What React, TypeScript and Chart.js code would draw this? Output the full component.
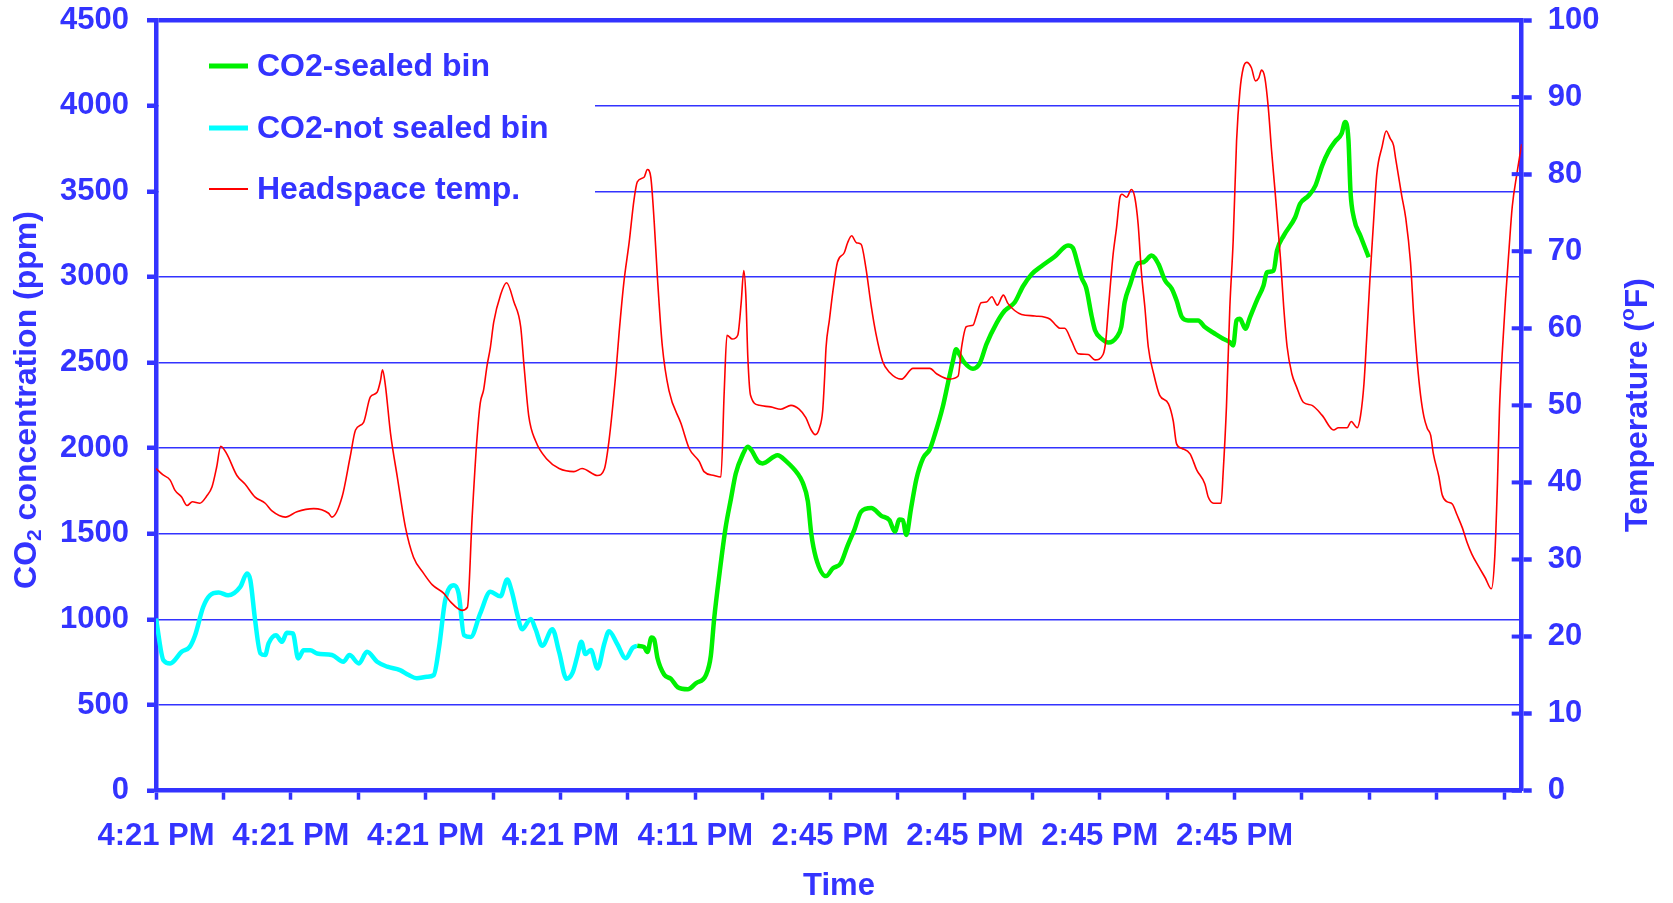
import React, { useEffect, useRef } from 'react';
import { Chart, registerables } from 'chart.js';

Chart.register(...registerables);

// ---------- data ----------
const xLabels = ['4:21 PM', '4:21 PM', '4:21 PM', '4:21 PM', '4:11 PM', '2:45 PM', '2:45 PM', '2:45 PM', '2:45 PM'];
const legendNames = ['CO2-sealed bin', 'CO2-not sealed bin', 'Headspace temp.'];

const tempTime = [
  0.00, 0.10, 0.21, 0.28, 0.38, 0.46, 0.54, 0.65, 0.75, 0.83, 0.90, 0.96, 1.05, 1.20, 1.32, 1.47, 1.62, 1.72, 1.92, 2.09,
  2.34, 2.56, 2.61, 2.76, 2.88, 2.96, 3.08, 3.18, 3.28, 3.33, 3.36, 3.40, 3.48, 3.58, 3.70, 3.82, 3.97, 4.10, 4.27, 4.37,
  4.54, 4.62, 4.69, 4.76, 4.81, 4.86, 4.91, 4.96, 5.01, 5.11, 5.20, 5.31, 5.41, 5.46, 5.53, 5.63, 5.80, 5.98, 6.20, 6.32,
  6.55, 6.65, 6.72, 6.82, 6.87, 6.94, 7.02, 7.09, 7.14, 7.24, 7.29, 7.34, 7.39, 7.44, 7.51, 7.61, 7.79, 7.91, 8.06, 8.13,
  8.28, 8.38, 8.43, 8.47, 8.55, 8.63, 8.68, 8.72, 8.75, 8.78, 8.82, 8.95, 9.12, 9.27, 9.42, 9.54, 9.64, 9.72, 9.78, 9.84,
  9.89, 9.92, 9.94, 9.99, 10.04, 10.11, 10.21, 10.26, 10.32, 10.39, 10.46, 10.53, 10.61, 10.68, 10.78, 10.88, 11.06, 11.23, 11.48, 11.58,
  11.77, 11.90, 11.95, 12.02, 12.12, 12.17, 12.24, 12.32, 12.40, 12.48, 12.57, 12.64, 12.84, 13.04, 13.26, 13.36, 13.41, 13.48, 13.58, 13.68,
  13.83, 13.93, 14.05, 14.09, 14.13, 14.20, 14.25, 14.30, 14.33, 14.40, 14.47, 14.52, 14.57, 14.62, 14.67, 14.72, 14.80, 14.89, 15.02, 15.09,
  15.14, 15.22, 15.34, 15.44, 15.56, 15.61, 15.69, 15.80, 15.83, 15.88, 15.93, 15.98, 16.03, 16.08, 16.13, 16.18, 16.25, 16.31, 16.36, 16.40,
  16.45, 16.50, 16.55, 16.60, 16.68, 16.73, 16.78, 16.85, 16.92, 17.02, 17.15, 17.30, 17.47, 17.54, 17.67, 17.73, 17.82, 17.87, 17.92, 17.96,
  18.01, 18.06, 18.11, 18.19, 18.25, 18.31, 18.36, 18.39, 18.48, 18.54, 18.61, 18.66, 18.71, 18.76, 18.81, 18.86, 18.91, 18.95, 19.03, 19.08,
  19.15, 19.23, 19.30, 19.38, 19.45, 19.52, 19.62, 19.72, 19.81, 19.86, 19.90, 19.93, 19.97, 20.02, 20.07, 20.12, 20.19, 20.26,
];
const tempValues = [
  41.8, 41.0, 40.3, 39.0, 38.1, 37.0, 37.5, 37.3, 38.2, 39.4, 42.0, 44.7, 43.7, 40.9, 39.8, 38.1, 37.3, 36.3, 35.5, 36.2,
  36.6, 36.0, 35.5, 38.1, 43.3, 46.8, 47.8, 51.1, 51.7, 53.2, 54.6, 52.8, 46.3, 40.7, 34.2, 30.3, 28.2, 26.7, 25.6, 24.5,
  23.4, 23.8, 35.5, 45.5, 50.3, 52.0, 55.1, 57.5, 60.8, 64.3, 65.9, 63.4, 60.2, 55.1, 48.6, 45.4, 43.0, 41.8, 41.4, 41.8,
  40.9, 41.7, 45.4, 54.0, 59.4, 65.9, 71.2, 76.6, 79.0, 79.6, 80.6, 79.6, 73.9, 66.4, 57.8, 51.9, 47.6, 44.4, 42.7, 41.4,
  40.9, 40.7, 51.9, 59.1, 58.6, 59.1, 63.2, 67.5, 64.3, 56.2, 51.3, 50.0, 49.8, 49.5, 50.0, 49.5, 48.4, 46.8, 46.2, 47.0,
  49.3, 53.8, 57.5, 61.1, 64.7, 68.6, 69.8, 71.1, 72.0, 71.1, 70.9, 67.9, 62.9, 59.3, 55.7, 54.3, 53.4, 54.8, 54.8, 54.1,
  53.4, 53.8, 57.5, 60.2, 60.4, 61.6, 63.3, 63.4, 64.1, 63.0, 64.3, 63.2, 61.8, 61.6, 61.2, 60.3, 60.0, 60.0, 58.4, 56.7,
  56.6, 55.9, 56.6, 58.4, 62.7, 69.7, 73.1, 77.0, 77.4, 77.0, 78.0, 77.0, 73.5, 67.1, 62.7, 57.6, 54.1, 51.3, 50.2, 48.0,
  45.0, 44.4, 43.7, 41.6, 39.8, 38.1, 37.3, 37.3, 41.1, 49.8, 62.7, 71.4, 84.3, 90.8, 93.8, 94.5, 93.8, 92.1, 92.5, 93.5,
  92.5, 88.7, 83.0, 77.9, 69.2, 62.7, 57.6, 54.1, 52.4, 50.4, 50.0, 48.7, 46.8, 47.1, 47.1, 47.9, 47.1, 48.7, 52.8, 58.7,
  66.6, 73.5, 80.0, 83.6, 85.6, 84.6, 83.7, 82.0, 77.2, 74.3, 68.6, 61.4, 55.6, 51.3, 48.5, 47.0, 46.1, 43.7, 40.8, 38.4,
  37.5, 37.2, 35.8, 34.1, 32.2, 30.7, 29.1, 27.6, 26.2, 30.3, 39.8, 49.4, 56.6, 63.8, 70.0, 75.8, 80.1, 83.9,
];

const openTime = [
  0.00, 0.11, 0.21, 0.38, 0.50, 0.58, 0.70, 0.80, 0.93, 1.07, 1.25, 1.35, 1.40, 1.47, 1.55, 1.62, 1.67, 1.78, 1.87, 1.94,
  2.03, 2.11, 2.19, 2.29, 2.39, 2.61, 2.78, 2.87, 3.01, 3.13, 3.28, 3.43, 3.62, 3.75, 3.87, 4.02, 4.12, 4.20, 4.29, 4.42,
  4.49, 4.57, 4.67, 4.81, 4.96, 5.11, 5.21, 5.28, 5.36, 5.43, 5.56, 5.63, 5.73, 5.88, 5.98, 6.09, 6.18, 6.25, 6.31, 6.37,
  6.45, 6.55, 6.65, 6.72, 6.84, 6.97, 7.07, 7.14,
];
const openValues = [
  1005, 762, 743, 811, 840, 908, 1073, 1141, 1157, 1141, 1190, 1268, 1229, 996, 801, 792, 860, 908, 869, 922,
  918, 772, 820, 820, 801, 792, 753, 792, 743, 811, 753, 724, 704, 675, 656, 665, 675, 840, 1112, 1200,
  1151, 908, 898, 1035, 1161, 1135, 1233, 1161, 1028, 943, 1003, 943, 846, 943, 810, 653, 689, 786, 870, 798,
  822, 713, 858, 931, 858, 773, 834, 846,
];

const sealedTime = [
  7.14, 7.24, 7.29, 7.35, 7.39, 7.44, 7.54, 7.64, 7.74, 7.89, 8.01, 8.16, 8.23, 8.28, 8.36, 8.45, 8.53, 8.60, 8.70, 8.78,
  8.83, 8.93, 9.00, 9.22, 9.35, 9.52, 9.59, 9.67, 9.72, 9.79, 9.94, 10.04, 10.16, 10.26, 10.36, 10.46, 10.61, 10.76, 10.88, 10.96,
  11.03, 11.08, 11.13, 11.20, 11.28, 11.38, 11.48, 11.55, 11.67, 11.75, 11.82, 11.87, 11.92, 11.99, 12.12, 12.22, 12.32, 12.47, 12.59, 12.74,
  12.86, 12.99, 13.13, 13.33, 13.53, 13.60, 13.68, 13.73, 13.80, 13.88, 13.93, 14.03, 14.13, 14.25, 14.32, 14.37, 14.45, 14.57, 14.65, 14.77,
  14.87, 14.97, 15.07, 15.14, 15.22, 15.31, 15.46, 15.56, 15.71, 15.83, 15.93, 15.98, 16.03, 16.08, 16.16, 16.23, 16.33, 16.43, 16.48, 16.58,
  16.63, 16.73, 16.90, 16.97, 17.10, 17.20, 17.30, 17.40, 17.49, 17.59, 17.64, 17.69, 17.72, 17.77, 17.87, 17.99,
];
const sealedValues = [
  846, 839, 810, 895, 883, 773, 677, 653, 604, 592, 628, 677, 786, 1003, 1270, 1536, 1706, 1851, 1959, 2008,
  1990, 1923, 1911, 1959, 1923, 1851, 1802, 1690, 1503, 1360, 1253, 1298, 1329, 1431, 1523, 1629, 1650, 1605, 1580, 1513,
  1584, 1580, 1493, 1646, 1819, 1942, 1994, 2075, 2239, 2382, 2505, 2577, 2546, 2501, 2464, 2495, 2607, 2730, 2802, 2852,
  2944, 3016, 3061, 3118, 3184, 3170, 3067, 2996, 2934, 2771, 2689, 2638, 2617, 2648, 2709, 2852, 2954, 3080, 3086, 3125,
  3076, 2979, 2930, 2862, 2765, 2746, 2746, 2707, 2668, 2639, 2619, 2600, 2746, 2755, 2697, 2765, 2862, 2950, 3027, 3037,
  3154, 3241, 3348, 3426, 3475, 3533, 3650, 3737, 3790, 3838, 3905, 3800, 3500, 3345, 3237, 3115,
];

// ---------- styles ----------
const BLUE = '#3333ff';
const GREEN = '#00f000';
const CYAN = '#00ffff';
const RED = '#ff0000';
const FONT = '"Liberation Sans", Arial, Helvetica, sans-serif';

const toPoints = (xs: number[], ys: number[]) => xs.map((x, i) => ({ x, y: ys[i] }));

function drawParts(ctx: CanvasRenderingContext2D, parts: [string, string, number][], cx: number, cy: number) {
  let total = 0;
  for (const [t, f] of parts) { ctx.font = f; total += ctx.measureText(t).width; }
  let x = cx - total / 2;
  for (const [t, f, dy] of parts) {
    ctx.font = f;
    ctx.fillText(t, x, cy + dy);
    x += ctx.measureText(t).width;
  }
}

const noPad = (s: any) => {
  s.paddingTop = 0;
  s.paddingBottom = 0;
  s.paddingLeft = 0;
  s.paddingRight = 0;
};

const decorPlugin = {
  id: 'decor',
  beforeDatasetsDraw(chart: any) {
    const { ctx, chartArea } = chart;
    ctx.save();
    ctx.fillStyle = '#ffffff';
    ctx.fillRect(chartArea.left + 3, chartArea.top + 3, 595 - chartArea.left - 3, 215 - chartArea.top - 3);
    const rows = [66, 128, 189];
    const colors = [GREEN, CYAN, RED];
    const widths = [5, 5, 2];
    ctx.font = `bold 32px ${FONT}`;
    ctx.textBaseline = 'middle';
    ctx.textAlign = 'left';
    legendNames.forEach((name, i) => {
      ctx.strokeStyle = colors[i];
      ctx.lineWidth = widths[i];
      ctx.beginPath();
      ctx.moveTo(209, rows[i]);
      ctx.lineTo(248, rows[i]);
      ctx.stroke();
      ctx.fillStyle = BLUE;
      ctx.fillText(name, 257, rows[i] + 1);
    });
    ctx.restore();
  },
  afterDraw(chart: any) {
    const { ctx, chartArea } = chart;
    const y1 = chart.scales.y1;
    ctx.save();
    // inner halves of the right-axis tick marks
    ctx.strokeStyle = BLUE;
    ctx.lineWidth = 4;
    y1.ticks.forEach((t: any) => {
      const py = y1.getPixelForValue(t.value);
      ctx.beginPath();
      ctx.moveTo(chartArea.right - 10, py);
      ctx.lineTo(chartArea.right, py);
      ctx.stroke();
    });
    ctx.fillStyle = BLUE;
    ctx.textBaseline = 'middle';
    ctx.textAlign = 'left';
    const big = `bold 32px ${FONT}`;
    const small = `bold 21px ${FONT}`;
    // left title
    ctx.save();
    ctx.translate(27, 400);
    ctx.rotate(-Math.PI / 2);
    drawParts(ctx, [['CO', big, 0], ['2', small, 8], [' concentration (ppm)', big, 0]], 0, 0);
    ctx.restore();
    // right title
    ctx.save();
    ctx.translate(1638, 405);
    ctx.rotate(-Math.PI / 2);
    drawParts(ctx, [['Temperature (', big, 0], ['o', small, -10], ['F)', big, 0]], 0, 0);
    ctx.restore();
    // x title
    drawParts(ctx, [['Time', `bold 31px ${FONT}`, 0]], 839, 886);
    ctx.restore();
  },
};

export default function App() {
  const ref = useRef<HTMLCanvasElement | null>(null);
  useEffect(() => {
    document.body.style.margin = '0';
    const canvas = ref.current;
    if (!canvas) return;
    const tickFont = { family: FONT, size: 31, weight: 'bold' as const };
    const chart = new Chart(canvas, {
      type: 'line',
      data: {
        datasets: [
          {
            label: legendNames[2],
            data: toPoints(tempTime, tempValues),
            yAxisID: 'y1',
            borderColor: RED,
            borderWidth: 1.6,
            pointRadius: 0,
            cubicInterpolationMode: 'monotone',
            fill: false,
          },
          {
            label: legendNames[0],
            data: toPoints(sealedTime, sealedValues),
            yAxisID: 'y',
            borderColor: GREEN,
            borderWidth: 4.5,
            pointRadius: 0,
            cubicInterpolationMode: 'monotone',
            fill: false,
          },
          {
            label: legendNames[1],
            data: toPoints(openTime, openValues),
            yAxisID: 'y',
            borderColor: CYAN,
            borderWidth: 4.5,
            pointRadius: 0,
            cubicInterpolationMode: 'monotone',
            fill: false,
          },
        ],
      },
      options: {
        responsive: false,
        animation: false,
        devicePixelRatio: 1,
        layout: { padding: { top: 20, left: 0, right: 0, bottom: 0 } },
        plugins: { legend: { display: false }, tooltip: { enabled: false } },
        scales: {
          x: {
            type: 'linear',
            min: 0,
            max: 20.26,
            afterBuildTicks: (s: any) => {
              s.ticks = Array.from({ length: 21 }, (_, i) => ({ value: i }));
            },
            afterFit: (s: any) => { s.height = 112.3; noPad(s); },
            ticks: {
              autoSkip: false,
              maxRotation: 0,
              minRotation: 0,
              padding: 18,
              color: BLUE,
              font: tickFont,
              callback: (v: any) => {
                const i = Math.round(Number(v));
                return i % 2 === 0 && i / 2 < xLabels.length ? xLabels[i / 2] : '';
              },
            },
            grid: { drawOnChartArea: false, drawTicks: true, tickLength: 9, tickWidth: 3.5, tickColor: BLUE },
            border: { display: true, color: BLUE, width: 4.5 },
          },
          y: {
            position: 'left',
            min: 0,
            max: 4500,
            afterFit: (s: any) => { s.width = 156; noPad(s); },
            ticks: {
              stepSize: 500,
              color: BLUE,
              font: tickFont,
              padding: 18,
              callback: (v: any) => String(v),
            },
            grid: {
              color: BLUE,
              lineWidth: (c: any) => (c.tick && c.tick.value === 4500 ? 4.5 : 1.5),
              tickLength: 9,
              tickWidth: 4.5,
              tickColor: BLUE,
            },
            border: { display: true, color: BLUE, width: 4.5 },
          },
          y1: {
            position: 'right',
            min: 0,
            max: 100,
            afterFit: (s: any) => { s.width = 151.3; noPad(s); },
            ticks: { stepSize: 10, color: BLUE, font: tickFont, padding: 16, callback: (v: any) => String(v) },
            grid: { drawOnChartArea: false, tickLength: 10, tickWidth: 4.5, tickColor: BLUE },
            border: { display: true, color: BLUE, width: 4.5 },
          },
        },
      },
      plugins: [decorPlugin],
    } as any);
    return () => chart.destroy();
  }, []);
  return <canvas ref={ref} width={1673} height={903} style={{ display: 'block' }} />;
}
